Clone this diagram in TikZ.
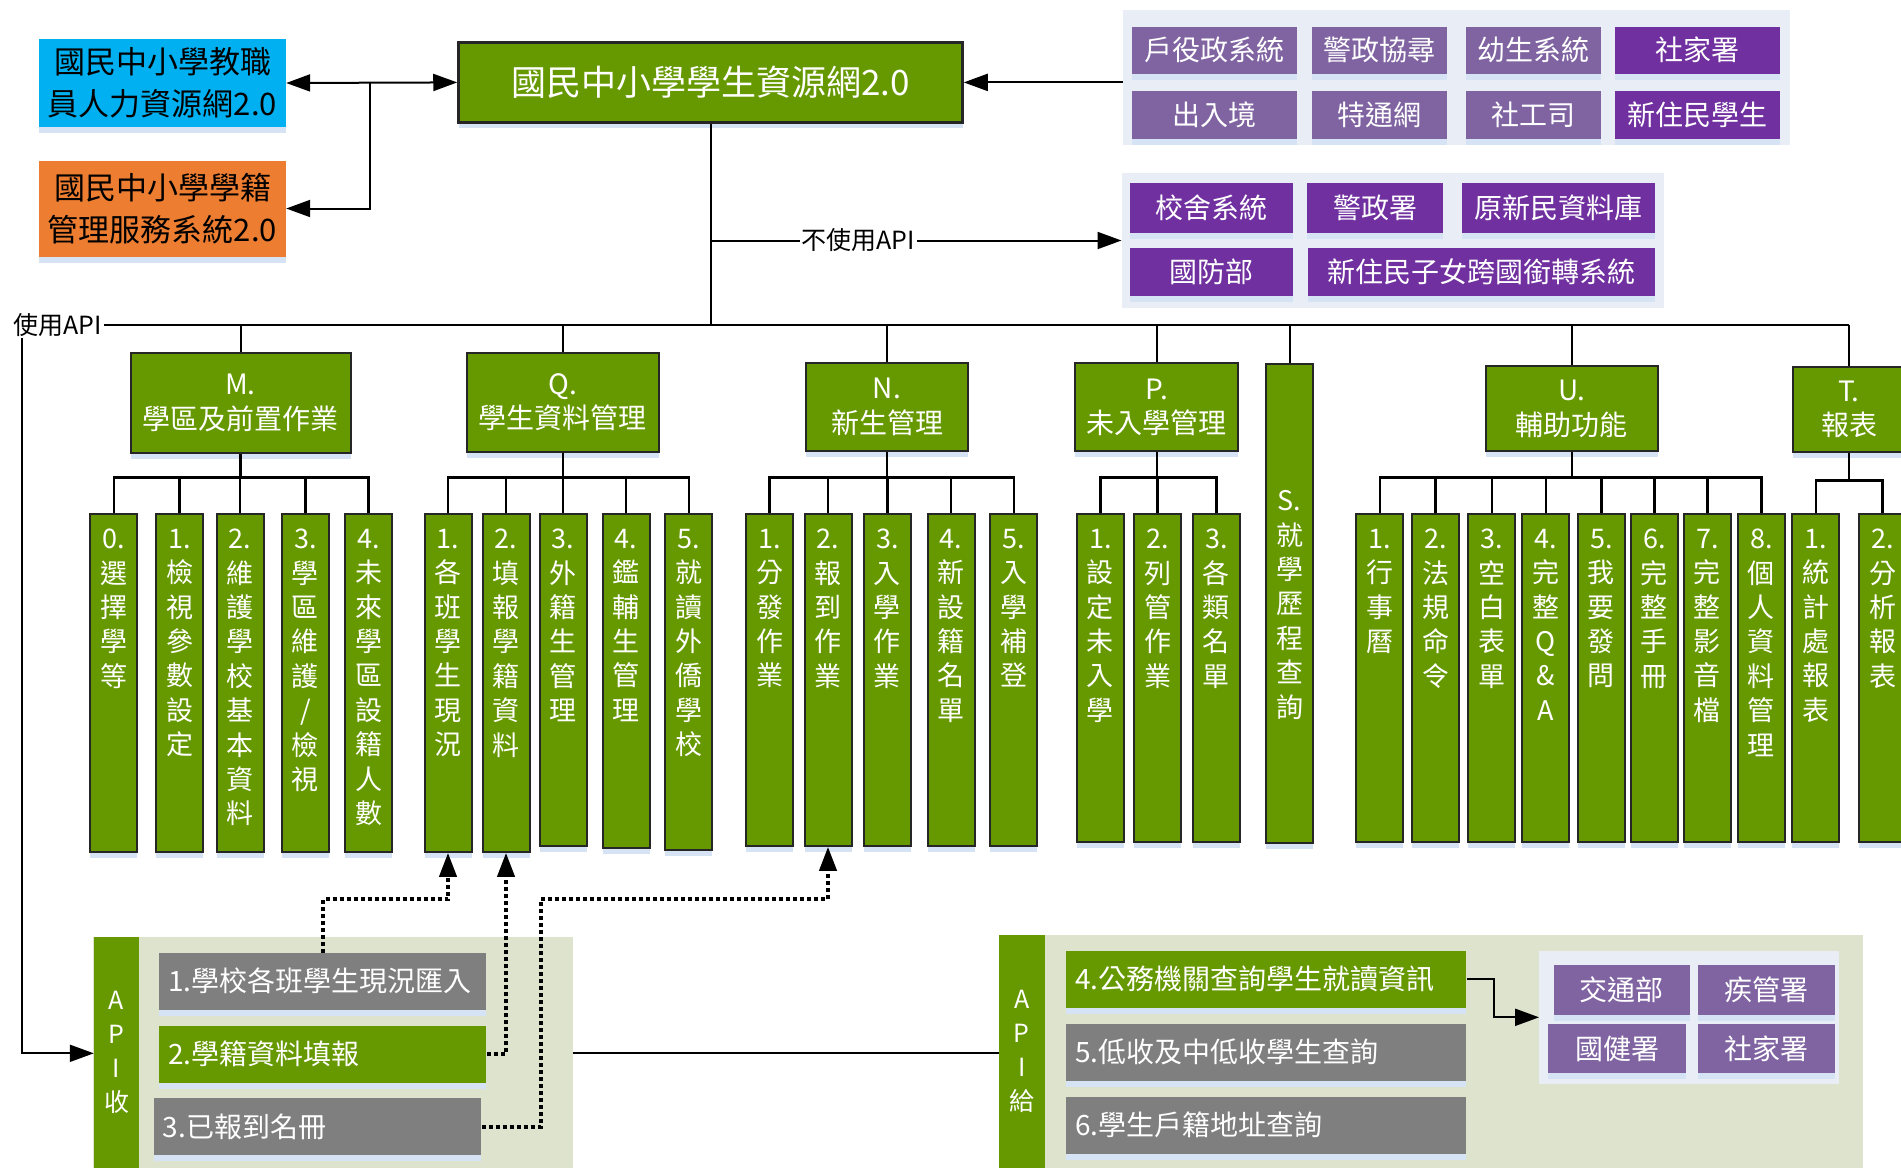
\documentclass[tikz,border=0pt]{standalone}
\usepackage{fontspec}
\setmainfont{Noto Sans CJK TC}
\usetikzlibrary{positioning, arrows.meta, shadows}
\definecolor{NetGreen}{HTML}{669900}
\definecolor{NetBlue}{HTML}{00B0F0}
\definecolor{NetOrange}{HTML}{ED7D31}
\definecolor{NetLilac}{HTML}{8064A2}
\definecolor{NetPurple}{HTML}{7030A0}
\definecolor{NetGray}{HTML}{7F7F7F}
\definecolor{NetOlive}{HTML}{DDE3CD}
\definecolor{NetMist}{HTML}{E9EEF6}
\definecolor{NetShadow}{HTML}{D6E3F4}
\definecolor{NetLine}{HTML}{262626}

\begin{document}
\begin{tikzpicture}[x=1pt, y=-1pt,
    boxshadow/.style={drop shadow={shadow xshift=0pt, shadow yshift=-6pt, fill=NetShadow, opacity=1}},
    sidebox/.style={rectangle, inner sep=2pt, align=center, text=black, font=\fontsize{31pt}{42pt}\selectfont, boxshadow},
    mainbox/.style={rectangle, fill=NetGreen, draw=NetLine, line width=2.5pt, text=white, font=\fontsize{35pt}{42pt}\selectfont, boxshadow},
    catbox/.style={rectangle, fill=NetGreen, draw=NetLine, line width=2pt, text=white, align=center, inner sep=2pt, font=\fontsize{28pt}{34.5pt}\selectfont, boxshadow},
    subbox/.style={rectangle, fill=NetGreen, draw=NetLine, line width=2pt, anchor=north, minimum width=47pt, boxshadow},
    subtext/.style={anchor=north, inner sep=0pt, align=center, text=white, font=\fontsize{27pt}{34.4pt}\selectfont},
    agency/.style={rectangle, text=white, font=\fontsize{28pt}{34pt}\selectfont, boxshadow},
    panel/.style={rectangle, fill=NetMist},
    apiback/.style={rectangle, fill=NetOlive},
    apitag/.style={rectangle, fill=NetGreen, text=white, align=center, font=\fontsize{25pt}{34pt}\selectfont},
    apibox/.style={rectangle, inner xsep=9pt, align=left, text=white, minimum height=57pt, font=\fontsize{28pt}{34pt}\selectfont, boxshadow},
    lbl/.style={inner sep=1.5pt, font=\fontsize{25pt}{30pt}\selectfont},
    link/.style={draw=black, line width=2pt},
    arr/.style={link, -{Triangle[length=24pt, width=17pt]}},
    tree/.style={draw=black, line width=2.5pt},
    dots/.style={draw=black, line width=4pt, dash pattern=on 4pt off 3pt, -{Triangle[length=24pt, width=17pt]}}
  ]
\useasboundingbox (0,0) rectangle (1901,1168);
\clip (0,0) rectangle (1901,1168);

% Top systems
\node[sidebox, fill=NetBlue, minimum width=247pt, minimum height=88pt] (staff) at (162.5,83) {國民中小學教職\\員人力資源網2.0};
\node[sidebox, fill=NetOrange, minimum width=247pt, minimum height=96pt] (enrol) at (162.5,208.5) {國民中小學學籍\\管理服務系統2.0};
\node[mainbox, minimum width=504pt, minimum height=80pt] (main) at (710.5,82.4) {國民中小學學生資源網2.0};
\coordinate (split) at (369.8,82.4);
\draw[arr, {Triangle[length=24pt, width=17pt]}-{Triangle[length=24pt, width=17pt]}] (staff.east) -- (main.west);
\draw[arr] (staff.east -| split) |- (enrol.east);

% Outside agencies, first panel
\node[panel, minimum width=667pt, minimum height=135pt] (ext) at (1456.5,77.5) {};
\foreach \x/\w/\c/\words [count=\i] in {1214.2/165/NetLilac/戶役政系統, 1379.7/135/NetLilac/警政協尋, 1533.8/135/NetLilac/幼生系統, 1697.6/165/NetPurple/社家署}
  \node[agency, fill=\c, minimum width=\w pt, minimum height=47pt] (exta\i) at (\x,50) {\words};
\foreach \x/\w/\c/\words [count=\i] in {1214.2/165/NetLilac/出入境, 1379.7/135/NetLilac/特通網, 1533.8/135/NetLilac/社工司, 1697.6/165/NetPurple/新住民學生}
  \node[agency, fill=\c, minimum width=\w pt, minimum height=48pt] (extb\i) at (\x,114.5) {\words};
\draw[arr] (ext.west |- main.east) -- (main.east);

% Outside agencies, second panel (no API)
\node[panel, minimum width=542pt, minimum height=135pt] (mod) at (1392.7,240.5) {};
\node[agency, fill=NetPurple, minimum width=163.4pt, minimum height=50pt] (moda1) at (1211.3,208) {校舍系統};
\node[agency, fill=NetPurple, minimum width=136.4pt, minimum height=50pt] (moda2) at (1375,208) {警政署};
\node[agency, fill=NetPurple, minimum width=193.6pt, minimum height=50pt] (moda3) at (1558.4,208) {原新民資料庫};
\node[agency, fill=NetPurple, minimum width=163.4pt, minimum height=48pt] (modb1) at (1211.3,272) {國防部};
\node[agency, fill=NetPurple, minimum width=346.8pt, minimum height=48pt] (modb2) at (1481.8,272) {新住民子女跨國銜轉系統};

% Bus
\node[lbl] (useapi) at (57.7,325) {使用API};
\draw[link] (main.south) -- (main.south |- useapi.east);
\draw[arr] (main.south |- mod.west) -- node[lbl, fill=white, pos=0.36] (noapi) {不使用API} (mod.west);

% Modules
\node[catbox, minimum width=220pt, minimum height=100.7pt] (m) at (240.5,403) {M.\\學區及前置作業};
\node[catbox, minimum width=192pt, minimum height=99pt] (q) at (562.8,402) {Q.\\學生資料管理};
\node[catbox, minimum width=161.4pt, minimum height=88.7pt] (n) at (887,407) {N.\\新生管理};
\node[catbox, minimum width=163pt, minimum height=88pt] (p) at (1156.9,407.4) {P.\\未入學管理};
\node[subbox, minimum height=479pt] (s) at (1289.6,363.4) {};
\node[subtext] (s-t) at ([yshift=-127pt]s.north) {S.\\就\\學\\歷\\程\\查\\詢};
\node[catbox, minimum width=172pt, minimum height=85.4pt] (u) at (1571.9,408.7) {U.\\輔助功能};
\node[catbox, minimum width=112pt, minimum height=85pt] (t) at (1849,409.2) {T.\\報表};
\draw[link] (useapi.east) -- (t.north |- useapi.east);
\foreach \c in {m,q,n,p,s,u,t}
  \draw[link] (\c.north |- useapi.east) -- (\c.north);

% M items
\foreach \x/\words [count=\i from 0] in {113.9/{0.\\選\\擇\\學\\等}, 179.5/{1.\\檢\\視\\參\\數\\設\\定}, 240.1/{2.\\維\\護\\學\\校\\基\\本\\資\\料}, 305.4/{3.\\學\\區\\維\\護\\/\\檢\\視}, 368.7/{4.\\未\\來\\學\\區\\設\\籍\\人\\數}} {
  \node[subbox, minimum height=338pt] (m\i) at (\x,512.8) {};
  \node[subtext] (m\i-t) at ([yshift=-16pt]m\i.north) {\words};
  \draw[tree] (m.south) -- ++(0,23) -| (m\i.north);
}
% Q items
\foreach \x/\h/\words [count=\i] in {448/338/{1.\\各\\班\\學\\生\\現\\況}, 506/338/{2.\\填\\報\\學\\籍\\資\\料}, 563.2/332/{3.\\外\\籍\\生\\管\\理}, 626.2/334/{4.\\鑑\\輔\\生\\管\\理}, 688.8/336/{5.\\就\\讀\\外\\僑\\學\\校}} {
  \node[subbox, minimum height=\h pt] (q\i) at (\x,512.8) {};
  \node[subtext] (q\i-t) at ([yshift=-16pt]q\i.north) {\words};
  \draw[tree] (q.south) -- ++(0,25) -| (q\i.north);
}
% N items
\foreach \x/\words [count=\i] in {769.5/{1.\\分\\發\\作\\業}, 828/{2.\\報\\到\\作\\業}, 887.3/{3.\\入\\學\\作\\業}, 951/{4.\\新\\設\\籍\\名\\單}, 1013.9/{5.\\入\\學\\補\\登}} {
  \node[subbox, minimum height=332pt] (n\i) at (\x,512.8) {};
  \node[subtext] (n\i-t) at ([yshift=-16pt]n\i.north) {\words};
  \draw[tree] (n.south) -- ++(0,25) -| (n\i.north);
}
% P items
\foreach \x/\words [count=\i] in {1100.4/{1.\\設\\定\\未\\入\\學}, 1157.7/{2.\\列\\管\\作\\業}, 1216.4/{3.\\各\\類\\名\\單}} {
  \node[subbox, minimum height=328.6pt] (p\i) at (\x,512.8) {};
  \node[subtext] (p\i-t) at ([yshift=-16pt]p\i.north) {\words};
  \draw[tree] (p.south) -- ++(0,25) -| (p\i.north);
}
% U items
\foreach \x/\words [count=\i] in {1379.8/{1.\\行\\事\\曆}, 1435.7/{2.\\法\\規\\命\\令}, 1491.8/{3.\\空\\白\\表\\單}, 1545.8/{4.\\完\\整\\Q\\\&\\A}, 1601.4/{5.\\我\\要\\發\\問}, 1654.4/{6.\\完\\整\\手\\冊}, 1707.3/{7.\\完\\整\\影\\音\\檔}, 1761.3/{8.\\個\\人\\資\\料\\管\\理}} {
  \node[subbox, minimum height=328.6pt] (u\i) at (\x,512.8) {};
  \node[subtext] (u\i-t) at ([yshift=-16pt]u\i.north) {\words};
  \draw[tree] (u.south) -- ++(0,25) -| (u\i.north);
}
% T items
\foreach \x/\words [count=\i] in {1815.8/{1.\\統\\計\\處\\報\\表}, 1882.5/{2.\\分\\析\\報\\表}} {
  \node[subbox, minimum height=328.6pt] (t\i) at (\x,512.8) {};
  \node[subtext] (t\i-t) at ([yshift=-16pt]t\i.north) {\words};
  \draw[tree] (t.south) -- ++(0,28) -| (t\i.north);
}

% API in
\node[apiback, minimum width=480.5pt, minimum height=231pt] (recv) at (332.75,1052.5) {};
\node[apitag, minimum width=45pt, minimum height=231pt] (recvtag) at (116.5,1052.5) {A\\P\\I\\收};
\node[apibox, fill=NetGray, text width=309pt] (api1) at (322.9,981.2) {1.學校各班學生現況匯入};
\node[apibox, fill=NetGreen, text width=309pt] (api2) at (322.9,1054) {2.學籍資料填報};
\node[apibox, fill=NetGray, text width=309.5pt] (api3) at (317.6,1126.8) {3.已報到名冊};

% API out
\node[apiback, minimum width=864pt, minimum height=233pt] (give) at (1430.8,1051.5) {};
\node[apitag, minimum width=45.8pt, minimum height=233pt] (givetag) at (1021.7,1051.5) {A\\P\\I\\給};
\node[apibox, fill=NetGreen, text width=382pt] (api4) at (1266.3,979.2) {4.公務機關查詢學生就讀資訊};
\node[apibox, fill=NetGray, text width=382pt] (api5) at (1266.3,1052.3) {5.低收及中低收學生查詢};
\node[apibox, fill=NetGray, text width=382pt] (api6) at (1266.3,1125) {6.學生戶籍地址查詢};
\node[panel, minimum width=299.5pt, minimum height=133.3pt] (orgs) at (1689,1017.3) {};
\node[agency, fill=NetLilac, minimum width=135.6pt, minimum height=50pt] (org1) at (1621.7,990) {交通部};
\node[agency, fill=NetLilac, minimum width=136.8pt, minimum height=50pt] (org2) at (1766.2,990) {疾管署};
\node[agency, fill=NetLilac, minimum width=138pt, minimum height=49pt] (org3) at (1617,1048.7) {國健署};
\node[agency, fill=NetLilac, minimum width=136.8pt, minimum height=49pt] (org4) at (1766.2,1048.7) {社家署};

% API links
\coordinate (usebend) at (22,1053.3);
\draw[arr] (useapi.south -| usebend) -- (usebend) -- (recvtag.west |- usebend);
\draw[link] (recv.east |- usebend) -- (givetag.west |- usebend);
\draw[arr] (api4.east) -- ++(27,0) |- (orgs.west);
\coordinate (dotlane) at (0,899.3);
\coordinate (dotturn) at (540.6,899.3);
\draw[dots] (api1.north) -- (api1.north |- dotlane) -- (q1.south |- dotlane) -- (q1.south);
\draw[dots] (api2.east) -- (q2.south |- api2.east) -- (q2.south);
\draw[dots] (api3.east) -- (dotturn |- api3.east) -- (dotturn) -- (n2.south |- dotturn) -- (n2.south);
\end{tikzpicture}
\end{document}
